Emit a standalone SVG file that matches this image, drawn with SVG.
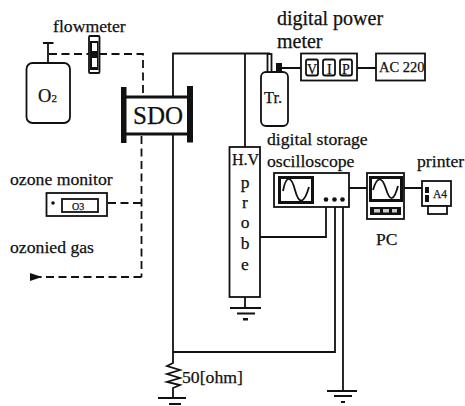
<svg xmlns="http://www.w3.org/2000/svg" width="465" height="406" viewBox="0 0 465 406">
<style>
text{font-family:"Liberation Serif","Times New Roman",serif;fill:#111;stroke:#111;stroke-width:.25}
.l{font-size:17.7px}
.w{fill:none;stroke:#111;stroke-width:1.8}
.d{fill:none;stroke:#111;stroke-width:1.8;stroke-dasharray:8 4.5}
.b{fill:#fff;stroke:#111;stroke-width:1.8}
.k{fill:#111;stroke:none}
.s{fill:#fff;stroke:#111;stroke-width:3}
</style>
<defs><marker id="ah" markerWidth="12" markerHeight="8" refX="11" refY="4" orient="auto" markerUnits="userSpaceOnUse"><path d="M12 0L0 4L12 8Z" fill="#111"/></marker></defs>
<rect width="465" height="406" fill="#fff"/>
<g id="connectors">
<path class="d" d="M49 54H143V93"/>
<path class="d" d="M141.500 136V277"/>
<path class="d" d="M108 203H141"/>
<path class="d" d="M141.500 277H31" marker-end="url(#ah)"/>
<path class="w" d="M173 96V53.500H270"/>
<path class="w" d="M173 135V352"/>
<path class="w" d="M245 54V147"/>
<path class="w" d="M282 68H301M357 68H376"/>
<path class="w" d="M349 188H367M404 188H422"/>
<path class="w" d="M260 237H326V200"/>
<path class="w" d="M335 200V352H173"/>
<path class="w" d="M343 200V391"/>
<path class="w" d="M173 352V363L167 366L180 370L167 374L180 378L167 382L180 385L173 388V398"/>
<path class="w" d="M245 297V308"/>
</g>
<g id="o2"><rect class="b" x="26.500" y="63" width="43.500" height="60" rx="6"/><path class="w" d="M48 63V43M43 43H53.500"/><text x="38" y="102" font-size="18.500">O<tspan font-size="11">2</tspan></text></g>
<g id="flowmeter"><rect class="b" x="89" y="36" width="10.500" height="37" rx="1"/><rect class="k" x="90" y="41" width="8.500" height="29"/><rect x="92" y="43" width="5" height="8" fill="#fff"/><rect x="92" y="58" width="5" height="9" fill="#fff"/><text class="l" x="53" y="32">flowmeter</text></g>
<g id="sdo"><rect class="k" x="121" y="87" width="5.500" height="56"/><rect class="k" x="187" y="86" width="6" height="56.500"/><path d="M126 97H187M126 134H187" stroke="#111" stroke-width="3" fill="none"/><text x="133" y="124" font-size="25">SDO</text></g>
<g id="tr"><rect class="b" x="261" y="72" width="27" height="54" rx="5"/><rect class="k" x="276" y="63" width="6" height="9"/><rect class="b" x="267.500" y="54" width="4" height="18"/><text x="264" y="103" font-size="16.500">Tr.</text></g>
<g id="power-meter"><rect class="b" x="301" y="53.500" width="56" height="27"/><rect class="b" x="306" y="59.500" width="12" height="16" rx="2"/><rect class="b" x="323" y="59.500" width="12" height="16" rx="2"/><rect class="b" x="340" y="59.500" width="12" height="16" rx="2"/><text x="307" y="74" font-size="14">V</text><text x="327" y="74" font-size="14">I</text><text x="342" y="74" font-size="14">P</text><text x="277" y="25" font-size="20">digital power</text><text x="277" y="48" font-size="20">meter</text></g>
<g id="ac220"><rect class="b" x="376" y="53.500" width="49" height="27"/><text x="379" y="72" font-size="14.500">AC 220</text></g>
<g id="probe"><rect class="b" x="229.500" y="147" width="30.500" height="150"/><text x="232" y="165" font-size="16">H.V</text><g font-size="17.500" text-anchor="middle"><text x="245" y="188">p</text><text x="245" y="208">r</text><text x="245" y="228">o</text><text x="245" y="249">b</text><text x="245" y="270">e</text></g></g>
<g id="gnd1"><path class="w" d="M230 308H261M237 313.500H255"/><rect class="k" x="243" y="318" width="5" height="2.500"/></g>
<g id="oscilloscope"><rect class="b" x="274" y="173" width="75" height="34"/><rect class="s" x="279.500" y="177.500" width="33" height="25"/><path class="w" d="M283 191C286 175 291 175 295 190S304 204 309 187"/><circle class="k" cx="326" cy="199.500" r="2.300"/><circle class="k" cx="334.500" cy="199.500" r="2.300"/><circle class="k" cx="342.500" cy="199.500" r="2.300"/><text class="l" x="267" y="145">digital storage</text><text class="l" x="267" y="167">oscilloscope</text></g>
<g id="pc"><rect class="b" x="367" y="173" width="37" height="46"/><rect class="s" x="370.500" y="177.500" width="31" height="23"/><path class="w" d="M373 190C377 176 382 176 386 189S394 201 398 186"/><rect class="k" x="370" y="207" width="31" height="8"/><rect x="374" y="209" width="6" height="3.500" fill="#ccc"/><rect x="383" y="209" width="6" height="3.500" fill="#ccc"/><rect x="392" y="209" width="5" height="3.500" fill="#ccc"/><text x="376" y="245" font-size="17.500">PC</text></g>
<g id="printer"><rect class="b" x="422" y="181" width="29" height="25"/><rect class="b" x="428" y="206" width="19" height="8"/><rect class="k" x="425" y="187" width="4" height="6"/><rect class="k" x="425" y="195" width="4" height="7"/><text x="433" y="198" font-size="11.500">A4</text><text class="l" x="417" y="167">printer</text></g>
<g id="ozone-monitor"><rect class="b" x="46.500" y="193" width="60.500" height="23"/><circle class="k" cx="53" cy="203" r="1.800"/><rect class="b" x="62" y="199" width="36" height="13"/><text x="72" y="210" font-size="10">O3</text><text class="l" x="10" y="185">ozone monitor</text></g>
<text id="ozonied" class="l" x="10" y="253">ozonied gas</text>
<g id="resistor"><text class="l" x="182" y="383">50[ohm]</text><path class="w" d="M158 398H186M169 404H181"/></g>
<g id="gnd2"><path class="w" d="M327 391H357M334 396H352M341 402H345"/></g>
</svg>
